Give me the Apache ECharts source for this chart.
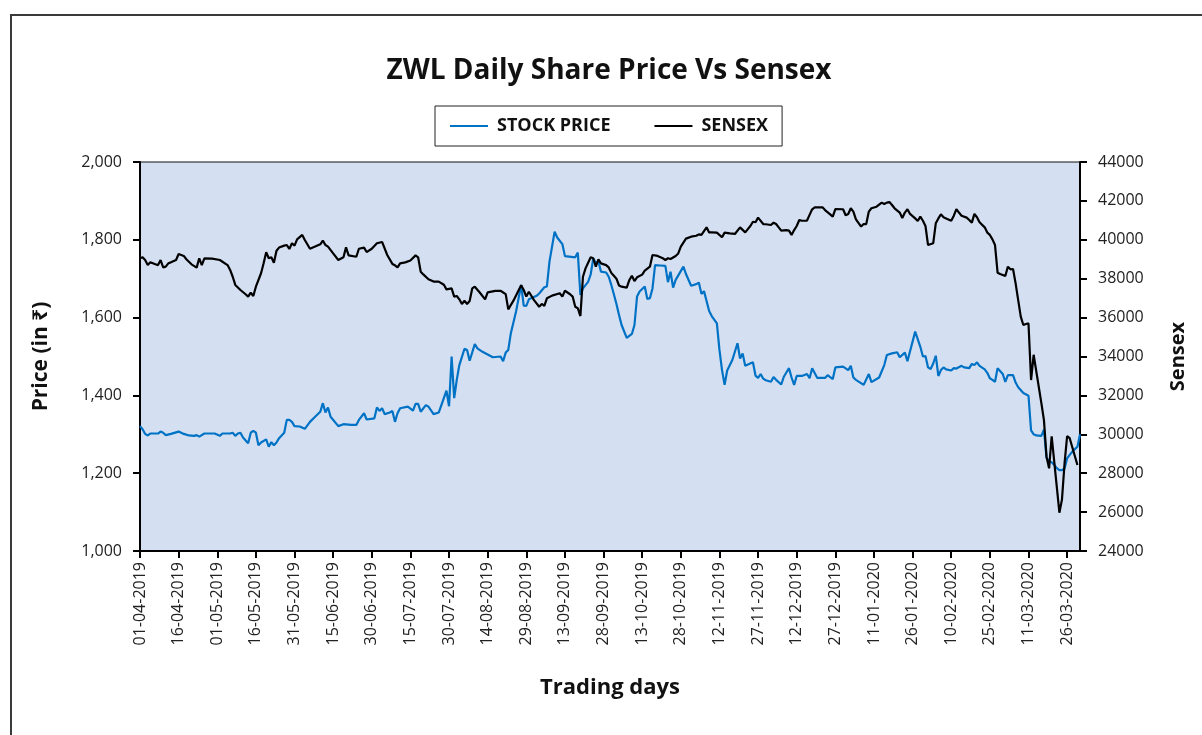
<!DOCTYPE html>
<html>
<head>
<meta charset="utf-8">
<title>ZWL Daily Share Price Vs Sensex</title>
<script src="https://cdn.jsdelivr.net/npm/echarts@6/dist/echarts.min.js"></script>
<style>
  html, body { margin: 0; padding: 0; background: #fff; }
  #chart { width: 1202px; height: 735px; }
</style>
</head>
<body>
<div id="chart"></div>
<script>
// tick labels on the date axis (every 15 calendar days)
const xTickLabels = [
  "01-04-2019", "16-04-2019", "01-05-2019", "16-05-2019", "31-05-2019", "15-06-2019",
  "30-06-2019", "15-07-2019", "30-07-2019", "14-08-2019", "29-08-2019", "13-09-2019",
  "28-09-2019", "13-10-2019", "28-10-2019", "12-11-2019", "27-11-2019", "12-12-2019",
  "27-12-2019", "11-01-2020", "26-01-2020", "10-02-2020", "25-02-2020", "11-03-2020",
  "26-03-2020"
];

const seriesNames = ["STOCK PRICE", "SENSEX"];

// ZWL closing price (left axis)
const priceDates = [
  "2019-04-01","2019-04-02","2019-04-03","2019-04-04","2019-04-05","2019-04-08","2019-04-09","2019-04-10","2019-04-11","2019-04-13","2019-04-16","2019-04-18","2019-04-20","2019-04-22","2019-04-23","2019-04-24","2019-04-26","2019-04-30",
  "2019-05-02","2019-05-03","2019-05-06","2019-05-07","2019-05-08","2019-05-09","2019-05-10","2019-05-11","2019-05-13","2019-05-14","2019-05-15","2019-05-16","2019-05-17","2019-05-18","2019-05-20","2019-05-21","2019-05-22","2019-05-23","2019-05-24","2019-05-25","2019-05-27","2019-05-28","2019-05-29","2019-05-30","2019-05-31",
  "2019-06-02","2019-06-04","2019-06-06","2019-06-08","2019-06-10","2019-06-11","2019-06-12","2019-06-13","2019-06-14","2019-06-17","2019-06-19","2019-06-22","2019-06-24","2019-06-25","2019-06-27","2019-06-28",
  "2019-07-01","2019-07-02","2019-07-03","2019-07-04","2019-07-05","2019-07-07","2019-07-08","2019-07-09","2019-07-10","2019-07-11","2019-07-14","2019-07-16","2019-07-17","2019-07-18","2019-07-19","2019-07-21","2019-07-22","2019-07-24","2019-07-26","2019-07-29","2019-07-30","2019-07-31",
  "2019-08-01","2019-08-02","2019-08-03","2019-08-05","2019-08-06","2019-08-07","2019-08-09","2019-08-10","2019-08-12","2019-08-16","2019-08-19","2019-08-20","2019-08-21","2019-08-22","2019-08-23","2019-08-25","2019-08-27","2019-08-28","2019-08-29","2019-08-30",
  "2019-09-02","2019-09-03","2019-09-05","2019-09-06","2019-09-07","2019-09-09","2019-09-10","2019-09-12","2019-09-13","2019-09-17","2019-09-18","2019-09-19","2019-09-20","2019-09-22","2019-09-23","2019-09-24","2019-09-25","2019-09-26","2019-09-27","2019-09-29","2019-09-30",
  "2019-10-01","2019-10-02","2019-10-03","2019-10-04","2019-10-05","2019-10-07","2019-10-08","2019-10-09","2019-10-10","2019-10-11","2019-10-12","2019-10-14","2019-10-15","2019-10-16","2019-10-17","2019-10-18","2019-10-20","2019-10-22","2019-10-23","2019-10-24","2019-10-25","2019-10-26","2019-10-29","2019-10-30",
  "2019-11-01","2019-11-03","2019-11-04","2019-11-05","2019-11-06","2019-11-08","2019-11-09","2019-11-11","2019-11-12","2019-11-13","2019-11-14","2019-11-15","2019-11-17","2019-11-19","2019-11-20","2019-11-21","2019-11-22","2019-11-25","2019-11-26","2019-11-27","2019-11-28","2019-11-29","2019-11-30",
  "2019-12-02","2019-12-03","2019-12-04","2019-12-06","2019-12-07","2019-12-09","2019-12-10","2019-12-11","2019-12-12","2019-12-14","2019-12-16","2019-12-17","2019-12-18","2019-12-20","2019-12-23","2019-12-24","2019-12-26","2019-12-27","2019-12-30",
  "2020-01-01","2020-01-02","2020-01-03","2020-01-04","2020-01-07","2020-01-09","2020-01-10","2020-01-13","2020-01-15","2020-01-16","2020-01-18","2020-01-20","2020-01-21","2020-01-23","2020-01-24","2020-01-27","2020-01-29","2020-01-30","2020-01-31",
  "2020-02-01","2020-02-02","2020-02-03","2020-02-04","2020-02-05","2020-02-06","2020-02-07","2020-02-08","2020-02-10","2020-02-11","2020-02-12","2020-02-14","2020-02-15","2020-02-17","2020-02-18","2020-02-19","2020-02-20","2020-02-21","2020-02-23","2020-02-24","2020-02-25","2020-02-26","2020-02-27","2020-02-28",
  "2020-03-01","2020-03-02","2020-03-03","2020-03-05","2020-03-06","2020-03-07","2020-03-09","2020-03-11","2020-03-12","2020-03-13","2020-03-14","2020-03-16","2020-03-17","2020-03-18","2020-03-19","2020-03-20","2020-03-21","2020-03-22","2020-03-23","2020-03-24","2020-03-25","2020-03-26","2020-03-27","2020-03-28","2020-03-29","2020-03-30","2020-03-31"
];
const priceValues = [
  1321,1313,1301,1297,1302,1302,1307,1304,1298,1301,1307,1301,1297,1296,1298,1294,1302,1302,
  1296,1302,1302,1304,1296,1302,1304,1292,1277,1304,1309,1304,1272,1279,1287,1268,1280,1272,1279,1290,1304,1337,1337,1332,1321,
  1320,1314,1332,1345,1358,1380,1356,1369,1345,1321,1326,1324,1324,1337,1354,1338,
  1341,1369,1360,1367,1352,1356,1360,1332,1354,1367,1371,1361,1378,1378,1358,1375,1371,1352,1356,1412,1372,1500,
  1393,1440,1478,1520,1517,1489,1532,1521,1512,1498,1500,1488,1510,1517,1560,1615,1684,1631,1630,1647,
  1656,1662,1678,1680,1744,1821,1806,1789,1758,1755,1767,1658,1675,1692,1711,1752,1740,1745,1718,1716,1705,
  1684,1660,1635,1607,1581,1548,1553,1558,1581,1654,1667,1680,1648,1650,1675,1735,1734,1733,1691,1718,1677,1697,1731,1712,
  1682,1686,1690,1661,1668,1617,1604,1585,1517,1465,1427,1464,1491,1534,1495,1508,1476,1485,1451,1445,1455,1443,1439,
  1435,1447,1440,1428,1448,1470,1446,1427,1450,1450,1455,1444,1470,1445,1445,1452,1442,1472,1474,
  1465,1476,1446,1440,1427,1455,1434,1446,1478,1504,1508,1511,1498,1510,1488,1564,1525,1500,1501,
  1472,1468,1482,1502,1450,1465,1472,1467,1464,1470,1469,1476,1472,1470,1481,1478,1485,1476,1467,1458,1444,1440,1435,1470,
  1455,1435,1452,1452,1433,1421,1406,1399,1310,1300,1297,1296,1312,1240,1230,1228,1221,1213,1208,1208,1212,1238,1247,1255,1262,1268,1300
];

// BSE Sensex (right axis)
const sensexDates = [
  "2019-04-01","2019-04-02","2019-04-03","2019-04-04","2019-04-05","2019-04-06","2019-04-07","2019-04-08","2019-04-09","2019-04-10","2019-04-11","2019-04-12","2019-04-13","2019-04-15","2019-04-16","2019-04-18","2019-04-19","2019-04-21","2019-04-23","2019-04-24","2019-04-25","2019-04-26","2019-04-29",
  "2019-05-02","2019-05-05","2019-05-06","2019-05-07","2019-05-08","2019-05-10","2019-05-12","2019-05-13","2019-05-14","2019-05-15","2019-05-16","2019-05-18","2019-05-19","2019-05-20","2019-05-21","2019-05-22","2019-05-23","2019-05-24","2019-05-25","2019-05-27","2019-05-28","2019-05-29","2019-05-30","2019-05-31",
  "2019-06-01","2019-06-03","2019-06-04","2019-06-06","2019-06-08","2019-06-10","2019-06-11","2019-06-12","2019-06-13","2019-06-15","2019-06-17","2019-06-19","2019-06-20","2019-06-21","2019-06-24","2019-06-25","2019-06-27","2019-06-28","2019-06-30",
  "2019-07-02","2019-07-04","2019-07-06","2019-07-08","2019-07-09","2019-07-10","2019-07-11","2019-07-13","2019-07-15","2019-07-17","2019-07-18","2019-07-19","2019-07-20","2019-07-22","2019-07-24","2019-07-26","2019-07-28","2019-07-29","2019-07-31",
  "2019-08-01","2019-08-02","2019-08-03","2019-08-04","2019-08-05","2019-08-06","2019-08-07","2019-08-08","2019-08-09","2019-08-11","2019-08-13","2019-08-14","2019-08-17","2019-08-19","2019-08-21","2019-08-22","2019-08-24","2019-08-27","2019-08-28","2019-08-29","2019-08-30",
  "2019-09-01","2019-09-03","2019-09-04","2019-09-05","2019-09-06","2019-09-08","2019-09-11","2019-09-12","2019-09-13","2019-09-15","2019-09-16","2019-09-17","2019-09-18","2019-09-19","2019-09-20","2019-09-21","2019-09-23","2019-09-24","2019-09-25","2019-09-26","2019-09-27","2019-09-29","2019-09-30",
  "2019-10-01","2019-10-02","2019-10-03","2019-10-04","2019-10-05","2019-10-07","2019-10-08","2019-10-09","2019-10-10","2019-10-11","2019-10-13","2019-10-14","2019-10-16","2019-10-17","2019-10-19","2019-10-21","2019-10-22","2019-10-23","2019-10-24","2019-10-26","2019-10-27","2019-10-28","2019-10-30",
  "2019-11-01","2019-11-03","2019-11-04","2019-11-05","2019-11-07","2019-11-08","2019-11-09","2019-11-11","2019-11-13","2019-11-14","2019-11-16","2019-11-18","2019-11-20","2019-11-22","2019-11-24","2019-11-25","2019-11-26","2019-11-27","2019-11-29","2019-11-30",
  "2019-12-02","2019-12-03","2019-12-04","2019-12-05","2019-12-06","2019-12-08","2019-12-09","2019-12-10","2019-12-11","2019-12-12","2019-12-13","2019-12-14","2019-12-16","2019-12-17","2019-12-18","2019-12-19","2019-12-22","2019-12-23","2019-12-25","2019-12-26","2019-12-27","2019-12-30","2019-12-31",
  "2020-01-01","2020-01-02","2020-01-03","2020-01-04","2020-01-06","2020-01-07","2020-01-08","2020-01-09","2020-01-10","2020-01-12","2020-01-14","2020-01-15","2020-01-16","2020-01-17","2020-01-18","2020-01-19","2020-01-21","2020-01-22","2020-01-23","2020-01-24","2020-01-25","2020-01-27","2020-01-28","2020-01-29","2020-01-30","2020-01-31",
  "2020-02-01","2020-02-03","2020-02-04","2020-02-05","2020-02-06","2020-02-07","2020-02-08","2020-02-10","2020-02-11","2020-02-12","2020-02-13","2020-02-14","2020-02-16","2020-02-17","2020-02-18","2020-02-19","2020-02-20","2020-02-21","2020-02-23","2020-02-24","2020-02-25","2020-02-26","2020-02-27","2020-02-28","2020-02-29",
  "2020-03-02","2020-03-03","2020-03-04","2020-03-05","2020-03-06","2020-03-07","2020-03-08","2020-03-09","2020-03-10","2020-03-11","2020-03-12","2020-03-13","2020-03-16","2020-03-17","2020-03-18","2020-03-19","2020-03-20","2020-03-23","2020-03-24","2020-03-25","2020-03-26","2020-03-27","2020-03-30"
];
const sensexValues = [
  39050,39100,38960,38700,38840,38790,38740,38700,38960,38580,38620,38790,38840,38960,39270,39170,39000,38740,38570,39050,38700,39050,39030,
  38960,38700,38450,38100,37680,37420,37200,37080,37280,37110,37590,38280,38790,39360,39050,39100,38820,39440,39600,39700,39730,39530,39820,39700,
  40020,40250,39990,39540,39650,39770,39960,39730,39650,39300,38960,39100,39610,39200,39130,39540,39600,39370,39540,
  39820,39890,39220,38760,38690,38580,38790,38840,38940,39200,39100,38360,38220,37970,37850,37850,37690,37450,37500,
  37080,37110,36940,36700,36870,36700,36850,37500,37590,37280,36940,37300,37370,37380,37210,36420,36870,37660,37420,37080,37330,
  36900,36560,36700,36600,36990,37130,37250,37080,37380,37200,37080,36560,36480,36080,38100,38530,39100,39050,38620,39000,38790,38700,38580,
  38300,38150,38000,37650,37590,37540,37930,38150,37880,38070,38210,38410,38620,39220,39170,39050,38960,39050,39010,39170,39300,39650,40060,
  40160,40210,40280,40250,40640,40380,40380,40370,40130,40370,40330,40300,40640,40380,40710,40930,40900,41140,40810,40800,
  40760,40880,40810,40640,40470,40500,40470,40250,40500,40710,41020,40980,40990,41280,41570,41670,41670,41530,41310,41190,41580,41570,41260,
  41330,41620,41450,41050,40680,40810,40810,41450,41620,41700,41910,41840,41910,41940,41790,41620,41400,41120,41400,41570,41330,41100,40970,41190,40980,40710,
  39730,39820,40850,41100,41310,41160,41100,40980,41240,41570,41400,41240,41140,41020,40880,41330,41160,40900,40640,40370,40250,40020,39730,38310,38240,
  38140,38620,38480,38500,37760,36900,36050,35620,35670,35700,32790,34090,31600,30730,28850,28250,29900,25970,26650,28500,29910,29800,28420
];

const DAY = 86400000;
const ORIGIN = Date.UTC(2019, 3, 1);
const FONT = "'Open Sans', 'Noto Sans', 'DejaVu Sans', sans-serif";

function isoToDay(s) {
  return Math.round((Date.parse(s) - ORIGIN) / DAY);
}
function labelToDay(s) {
  const [d, m, y] = s.split("-").map(Number);
  return Math.round((Date.UTC(y, m - 1, d) - ORIGIN) / DAY);
}

const tickDays = xTickLabels.map(labelToDay);
const labelByDay = {};
tickDays.forEach((d, i) => { labelByDay[d] = xTickLabels[i]; });

const priceData = priceDates.map((d, i) => [isoToDay(d), priceValues[i]]);
const sensexData = sensexDates.map((d, i) => [isoToDay(d), sensexValues[i]]);

const chart = echarts.init(document.getElementById("chart"));

chart.setOption({
  backgroundColor: "#ffffff",
  animation: false,
  textStyle: { fontFamily: FONT },
  graphic: [
    {
      type: "rect",
      shape: { x: 11, y: 15, width: 1220, height: 760 },
      style: { fill: "none", stroke: "#3a3a3a", lineWidth: 2 },
      silent: true
    },
    {
      type: "text",
      x: 609,
      y: 71,
      style: {
        text: "ZWL Daily Share Price Vs Sensex",
        font: "bold 28px " + FONT,
        fill: "#111",
        textAlign: "center",
        textVerticalAlign: "middle"
      }
    }
  ],
  legend: {
    data: seriesNames,
    left: 435,
    top: 106,
    padding: [11, 14, 11, 15],
    borderColor: "#222",
    borderWidth: 1,
    itemWidth: 38,
    itemHeight: 2,
    itemGap: 44,
    icon: "rect",
    textStyle: {
      fontFamily: FONT,
      fontSize: 18,
      fontWeight: "bold",
      color: "#111",
      padding: [0, 0, 0, 4]
    }
  },
  grid: {
    left: 140,
    right: 122,
    top: 162,
    bottom: 184,
    show: true,
    backgroundColor: "#D4E0F2",
    borderColor: "#111",
    borderWidth: 1
  },
  xAxis: {
    type: "value",
    min: 0,
    max: 365,
    name: "Trading days",
    nameLocation: "middle",
    nameGap: 126,
    nameTextStyle: { fontFamily: FONT, fontSize: 22, fontWeight: "bold", color: "#111" },
    axisLine: { lineStyle: { color: "#000", width: 2 } },
    axisTick: { customValues: tickDays, length: 7, lineStyle: { color: "#000", width: 2 } },
    axisLabel: {
      customValues: tickDays,
      rotate: 90,
      margin: 11,
      fontSize: 16,
      color: "#222",
      formatter: (v) => labelByDay[Math.round(v)] || ""
    },
    splitLine: { show: false }
  },
  yAxis: [
    {
      type: "value",
      min: 1000,
      max: 2000,
      interval: 200,
      position: "left",
      name: "Price (in ₹)",
      nameLocation: "middle",
      nameRotate: 90,
      nameGap: 88,
      nameTextStyle: { fontFamily: FONT, fontSize: 21, fontWeight: "bold", color: "#111" },
      axisLine: { show: true, lineStyle: { color: "#000", width: 2 } },
      axisTick: { show: true, length: 7, lineStyle: { color: "#000", width: 2 } },
      axisLabel: {
        margin: 18,
        fontSize: 16,
        color: "#222",
        formatter: (v) => v.toLocaleString("en-US")
      },
      splitLine: { show: false }
    },
    {
      type: "value",
      min: 24000,
      max: 44000,
      interval: 2000,
      position: "right",
      name: "Sensex",
      nameLocation: "middle",
      nameRotate: 90,
      nameGap: 88,
      nameTextStyle: { fontFamily: FONT, fontSize: 20, fontWeight: "bold", color: "#111" },
      axisLine: { show: true, lineStyle: { color: "#000", width: 2 } },
      axisTick: { show: true, length: 7, lineStyle: { color: "#000", width: 2 } },
      axisLabel: { margin: 18, fontSize: 16, color: "#222", formatter: (v) => String(v) },
      splitLine: { show: false }
    }
  ],
  series: [
    {
      name: seriesNames[0],
      type: "line",
      yAxisIndex: 0,
      data: priceData,
      showSymbol: false,
      color: "#0072C6",
      lineStyle: { color: "#0072C6", width: 2.2 }
    },
    {
      name: seriesNames[1],
      type: "line",
      yAxisIndex: 1,
      data: sensexData,
      showSymbol: false,
      color: "#000000",
      lineStyle: { color: "#000000", width: 2.2 }
    }
  ]
});

window.addEventListener("resize", () => chart.resize());
</script>
</body>
</html>
